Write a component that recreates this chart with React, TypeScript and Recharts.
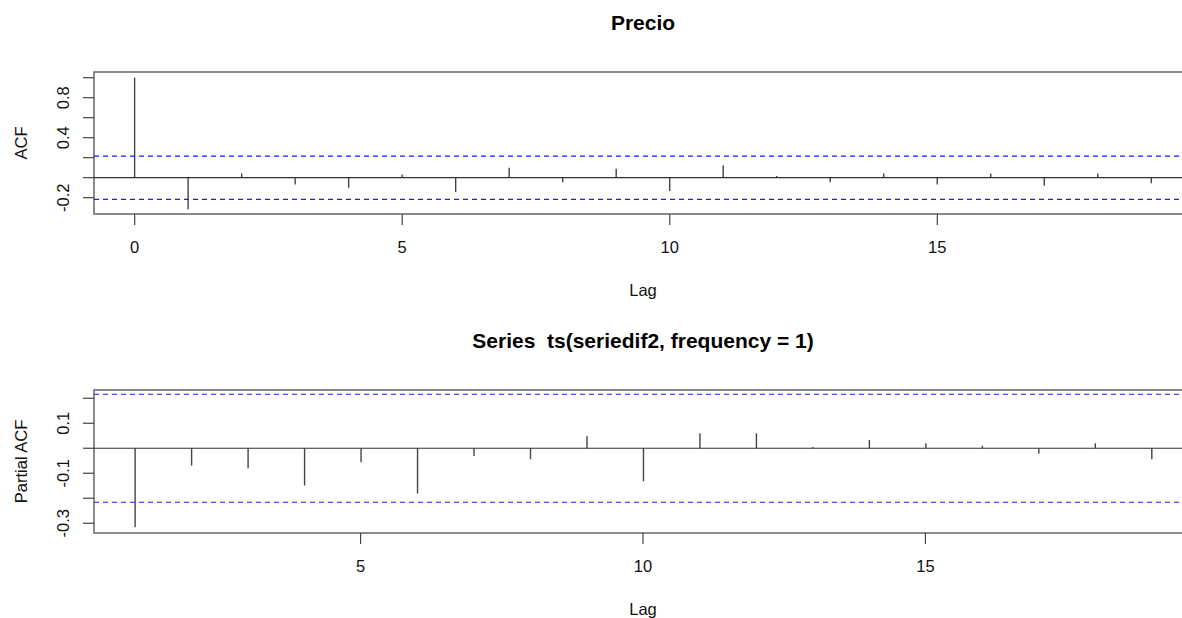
import React from 'react';
import { ComposedChart, Bar, XAxis, YAxis, ReferenceLine, ReferenceArea, Label } from 'recharts';

// ---- Data ----
const acfLags = [0, 1, 2, 3, 4, 5, 6, 7, 8, 9, 10, 11, 12, 13, 14, 15, 16, 17, 18, 19];
const acfValues = [1.0, -0.316, 0.043, -0.067, -0.1, 0.033, -0.143, 0.1, -0.046, 0.09, -0.133, 0.124, 0.017, -0.046, 0.043, -0.067, 0.043, -0.08, 0.043, -0.056];
const pacfLags = [1, 2, 3, 4, 5, 6, 7, 8, 9, 10, 11, 12, 13, 14, 15, 16, 17, 18, 19];
const pacfValues = [-0.316, -0.069, -0.08, -0.149, -0.056, -0.181, -0.031, -0.044, 0.049, -0.132, 0.06, 0.06, 0.005, 0.033, 0.02, 0.01, -0.022, 0.02, -0.044];
const confLimit = 0.216;

const acfXTicks = [0, 5, 10, 15];
const acfYTicks = [-0.2, 0, 0.2, 0.4, 0.6, 0.8, 1.0];
const acfYLabels = ['-0.2', '0.4', '0.8'];
const pacfXTicks = [5, 10, 15];
const pacfYTicks = [-0.3, -0.2, -0.1, 0, 0.1, 0.2];
const pacfYLabels = ['-0.3', '-0.1', '0.1'];

const titleTop = 'Precio';
const titleBottom = 'Series  ts(seriedif2, frequency = 1)';

const FONT = '"Liberation Sans", Arial, sans-serif';
const FS = 16.5;

const acfData = acfLags.map((lag, i) => ({ lag, value: acfValues[i] }));
const pacfData = pacfLags.map((lag, i) => ({ lag, value: pacfValues[i] }));

const fmt = (v: number) => {
  const s = (Math.round(v * 10) / 10).toFixed(1);
  return s === '-0.0' ? '0.0' : s;
};

const makeYTick = (labels: string[]) => (props: any) => {
  const { x, y, payload } = props;
  const t = fmt(payload.value);
  if (!labels.includes(t)) return <g />;
  return (
    <text x={x} y={y} dy="0.35em" textAnchor="middle" transform={`rotate(-90, ${x}, ${y})`}
      fontFamily={FONT} fontSize={FS} fill="#111">{t}</text>
  );
};

const XTick = (props: any) => {
  const { x, y, payload } = props;
  return (
    <text x={x} y={y} dy="0.35em" textAnchor="middle" fontFamily={FONT} fontSize={FS} fill="#111">
      {payload.value}
    </text>
  );
};

type PanelProps = {
  data: { lag: number; value: number }[];
  xDomain: [number, number];
  yDomain: [number, number];
  xTicks: number[];
  yTicks: number[];
  yLabels: string[];
  yTitle: string;
  height: number;
  xAxisHeight: number;
};

const Panel = ({ data, xDomain, yDomain, xTicks, yTicks, yLabels, yTitle, height, xAxisHeight }: PanelProps) => (
  <ComposedChart width={1260} height={height} data={data}
    margin={{ top: 72, right: 68, left: 34, bottom: 0 }}>
    <XAxis dataKey="lag" type="number" domain={xDomain} ticks={xTicks} allowDataOverflow
      height={xAxisHeight} tickSize={11} tickMargin={22} tick={<XTick />}
      axisLine={false} tickLine={{ stroke: '#444', strokeWidth: 1.2 }} interval={0}>
      <Label content={(p: any) => {
        const vb = p.viewBox;
        return <text x={vb.x + vb.width / 2} y={vb.y + 76} dy="0.35em" textAnchor="middle"
          fontFamily={FONT} fontSize={FS} fill="#111">Lag</text>;
      }} />
    </XAxis>
    <YAxis type="number" domain={yDomain} ticks={yTicks} allowDataOverflow width={60}
      tickSize={11} tickMargin={20} tick={makeYTick(yLabels)} axisLine={false}
      tickLine={{ stroke: '#444', strokeWidth: 1.2 }} interval={0}>
      <Label content={(p: any) => {
        const vb = p.viewBox;
        const cx = 21;
        const cy = vb.y + vb.height / 2;
        return <text x={cx} y={cy} dy="0.35em" textAnchor="middle" transform={`rotate(-90, ${cx}, ${cy})`}
          fontFamily={FONT} fontSize={FS} fill="#111">{yTitle}</text>;
      }} />
    </YAxis>
    <ReferenceArea x1={xDomain[0]} x2={xDomain[1]} y1={yDomain[0]} y2={yDomain[1]}
      fill="none" stroke="#666" strokeWidth={1.5} ifOverflow="visible" />
    <ReferenceLine y={0} stroke="#333" strokeWidth={1.2} />
    <ReferenceLine y={confLimit} stroke="#1a1aff" strokeWidth={1.2} strokeDasharray="5 4" />
    <ReferenceLine y={-confLimit} stroke="#1a1aff" strokeWidth={1.2} strokeDasharray="5 4" />
    <Bar dataKey="value" barSize={1.4} fill="#444" isAnimationActive={false} />
  </ComposedChart>
);

const titleStyle: React.CSSProperties = {
  position: 'absolute', left: 94, width: 1098, textAlign: 'center', whiteSpace: 'pre',
  fontFamily: FONT, fontSize: 21, fontWeight: 'bold', lineHeight: '46px', color: '#000',
};

export default function App() {
  return (
    <div style={{ position: 'fixed', left: 0, top: 0, width: 1182, height: 618, overflow: 'hidden', background: '#fff' }}>
      <div style={{ ...titleStyle, top: 0 }}>{titleTop}</div>
      <div style={{ position: 'absolute', left: 0, top: 0 }}>
        <Panel data={acfData} xDomain={[-0.76, 19.76]} yDomain={[-0.363, 1.057]}
          xTicks={acfXTicks} yTicks={acfYTicks} yLabels={acfYLabels} yTitle="ACF"
          height={309} xAxisHeight={95} />
      </div>
      <div style={{ ...titleStyle, top: 318 }}>{titleBottom}</div>
      <div style={{ position: 'absolute', left: 0, top: 318 }}>
        <Panel data={pacfData} xDomain={[0.28, 19.72]} yDomain={[-0.339, 0.233]}
          xTicks={pacfXTicks} yTicks={pacfYTicks} yLabels={pacfYLabels} yTitle="Partial ACF"
          height={300} xAxisHeight={85} />
      </div>
    </div>
  );
}
